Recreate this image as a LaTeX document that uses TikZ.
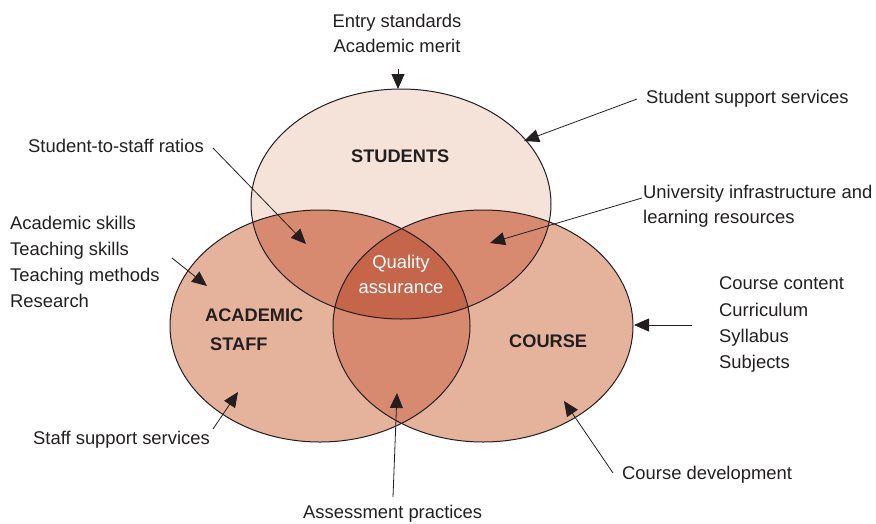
\documentclass[tikz,border=0pt]{standalone}
\usepackage{fontspec}
\setmainfont{Liberation Sans}
\usetikzlibrary{arrows.meta}
\definecolor{cStu}{HTML}{F5E2D9}
\definecolor{cOne}{HTML}{E5B39C}
\definecolor{cTwo}{HTML}{D88A70}
\definecolor{cThree}{HTML}{C5654A}
\definecolor{cTxt}{HTML}{231F20}
\begin{document}
\begin{tikzpicture}[x=1pt,y=-1pt,
  lbl/.style={inner sep=0pt,anchor=base west,text=cTxt,font=\fontsize{18.4}{25}\selectfont},
  lblc/.style={inner sep=0pt,anchor=base,text=cTxt,font=\fontsize{18.4}{25}\selectfont},
  head/.style={inner sep=0pt,anchor=base west,text=cTxt,font=\fontsize{18.2}{25}\selectfont\bfseries},
  qa/.style={inner sep=0pt,anchor=base,text=white,font=\fontsize{18.4}{25}\selectfont},
  pointer/.style={draw=cTxt,line width=0.8pt,-{Triangle[length=15pt,width=13pt]}},
  rim/.style={draw=cTxt,line width=1pt}]
\useasboundingbox (0,0) rectangle (876,523);
\def\stu{(401,204) ellipse [x radius=150pt,y radius=115pt]}
\def\stf{(320,326) ellipse [x radius=150pt,y radius=116pt]}
\def\crs{(483,326) ellipse [x radius=150pt,y radius=116pt]}
% base fills
\fill[cStu] \stu;
\fill[cOne] \stf;
\fill[cOne] \crs;
% pairwise overlaps
\begin{scope}\clip \stu; \fill[cTwo] \stf; \fill[cTwo] \crs; \end{scope}
\begin{scope}\clip \stf; \fill[cTwo] \crs; \end{scope}
% triple overlap
\begin{scope}\clip \stu; \clip \stf; \fill[cThree] \crs; \end{scope}
% outlines
\draw[rim] \stu;
\draw[rim] \stf;
\draw[rim] \crs;
% titles
\node[head] (tstu) at (351,162) {STUDENTS};
\node[head] (tac1) at (205,321) {ACADEMIC};
\node[head] (tac2) at (210,350) {STAFF};
\node[head] (tcrs) at (509,347) {COURSE};
\node[qa] (q1) at (401,268) {Quality};
\node[qa] (q2) at (401,293) {assurance};
% labels
\node[lblc] (e1) at (397,27) {Entry standards};
\node[lblc] (e2) at (397,52) {Academic merit};
\node[lbl] (ss) at (646,103) {Student support services};
\node[lbl] (u1) at (643,198) {University infrastructure and};
\node[lbl] (u2) at (643,223) {learning resources};
\node[lbl] (sr) at (28,152) {Student-to-staff ratios};
\node[lbl] (a1) at (10,229) {Academic skills};
\node[lbl] (a2) at (10,255) {Teaching skills};
\node[lbl] (a3) at (10,281) {Teaching methods};
\node[lbl] (a4) at (10,307) {Research};
\node[lbl] (c1) at (719,289) {Course content};
\node[lbl] (c2) at (719,316) {Curriculum};
\node[lbl] (c3) at (719,342) {Syllabus};
\node[lbl] (c4) at (719,368) {Subjects};
\node[lbl] (sf) at (33,444) {Staff support services};
\node[lbl] (ap) at (303,518) {Assessment practices};
\node[lbl] (cd) at (622,479) {Course development};
% connector ends
\coordinate (eS) at (398,69);   \coordinate (eT) at (398,89);
\coordinate (sS) at (637,99);   \coordinate (sT) at (524,141);
\coordinate (uS) at (642,198);  \coordinate (uT) at (490,243);
\coordinate (rS) at (213,148);  \coordinate (rT) at (306,244);
\coordinate (aS) at (172,258);  \coordinate (aT) at (207,286);
\coordinate (cS) at (692,325);  \coordinate (cT) at (634,325);
\coordinate (fS) at (213,429);  \coordinate (fT) at (238,392);
\coordinate (pS) at (393,497);  \coordinate (pT) at (397,393);
\coordinate (dS) at (613,473);  \coordinate (dT) at (564,401);
\draw[pointer] (eS) -- (eT);
\draw[pointer] (sS) -- (sT);
\draw[pointer] (uS) -- (uT);
\draw[pointer] (rS) -- (rT);
\draw[pointer] (aS) -- (aT);
\draw[pointer] (cS) -- (cT);
\draw[pointer] (fS) -- (fT);
\draw[pointer] (pS) -- (pT);
\draw[pointer] (dS) -- (dT);
\end{tikzpicture}
\end{document}
